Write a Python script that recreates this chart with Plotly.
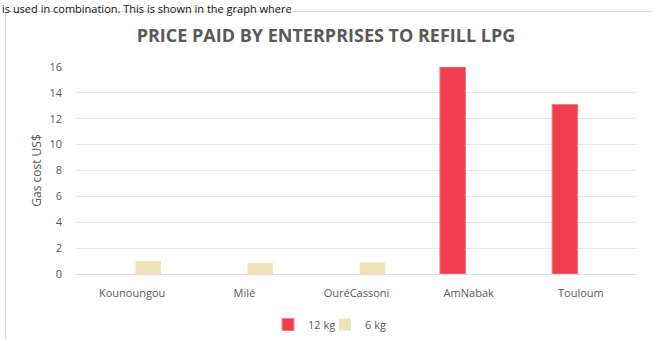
import plotly.graph_objects as go

categories = ["Kounoungou", "Milé", "OuréCassoni", "AmNabak", "Touloum"]
series_12kg = [None, None, None, 16.0, 13.1]
series_6kg = [1.0, 0.85, 0.9, None, None]
y_ticks = [0, 2, 4, 6, 8, 10, 12, 14, 16]

RED = "#EF3E50"
BEIGE = "#EEE2B9"
GREY = "#595959"
FONT = "Open Sans"

fig = go.Figure()
fig.add_trace(go.Bar(x=categories, y=series_12kg, name="12 kg", legend="legend",
                     marker=dict(color=RED, line=dict(color="#F47C88", width=1))))
fig.add_trace(go.Bar(x=categories, y=series_6kg, name="6 kg", legend="legend2",
                     marker=dict(color=BEIGE, line=dict(color=BEIGE, width=0))))

legend_common = dict(orientation="h", xanchor="left", xref="container",
                     y=1 - 310/340, yanchor="top", yref="container",
                     font=dict(family=FONT, size=11, color=GREY),
                     itemwidth=30, bgcolor="rgba(0,0,0,0)")

fig.update_layout(
    width=652, height=340,
    margin=dict(l=76, r=15, t=67, b=66, autoexpand=False),
    paper_bgcolor="white", plot_bgcolor="white",
    barmode="group", bargap=0.43, bargroupgap=0.2,
    font=dict(family=FONT, color=GREY, size=11),
    title=dict(text="<b>PRICE PAID BY ENTERPRISES TO REFILL LPG</b>",
               x=0.5, xref="container", xanchor="center",
               y=1 - 36/340, yanchor="middle", yref="container",
               font=dict(family=FONT, size=18, color=GREY)),
    showlegend=True,
    legend=dict(x=268 / 652, **legend_common),
    legend2=dict(x=325 / 652, **legend_common),
    xaxis=dict(showgrid=False, showline=False, zeroline=False,
               tickfont=dict(family=FONT, size=11, color=GREY),
               ticks="", ticklabelstandoff=11),
    yaxis=dict(range=[0, 16], tickvals=y_ticks, showgrid=True,
               gridcolor="#E6E6E6", gridwidth=1.3,
               zeroline=True, zerolinecolor="#DEDEDE", zerolinewidth=1.3,
               showline=False, ticks="", ticklabelstandoff=13,
               tickfont=dict(family=FONT, size=11, color=GREY),
               title=dict(text="Gas cost US$", standoff=5,
                          font=dict(family=FONT, size=12, color=GREY))),
    shapes=[dict(type="rect", xref="paper", yref="paper",
                 x0=(5.5 - 76) / 561, x1=(670 - 76) / 561,
                 y0=-(340 - 274 + 20) / 207, y1=1 + (67 - 11.5) / 207,
                 line=dict(color="#D9D9D9", width=1), fillcolor="rgba(0,0,0,0)",
                 layer="below")],
    annotations=[dict(text="is used in combination. This is shown in the graph where",
                      xref="paper", yref="paper",
                      x=(0 - 76) / 561, xanchor="left",
                      y=1 + (67 + 1) / 207, yanchor="top",
                      showarrow=False,
                      font=dict(family=FONT, size=11, color="#111111"))],
)

fig.write_html("out.html", config={"displayModeBar": False},
               post_script="document.body.style.margin='0';")
